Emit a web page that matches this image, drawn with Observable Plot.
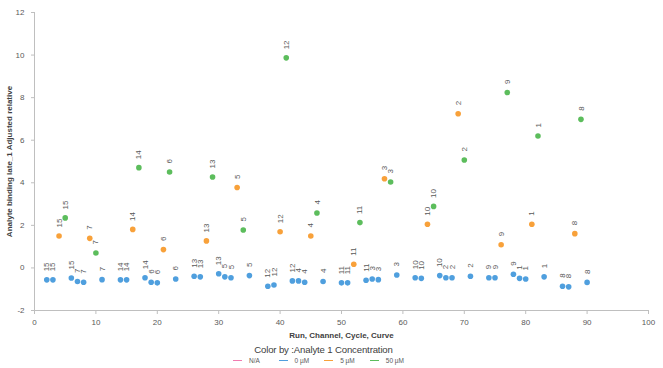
<!DOCTYPE html>
<html>
<head>
<meta charset="utf-8">
<script src="https://cdn.jsdelivr.net/npm/d3@7"></script>
<script src="https://cdn.jsdelivr.net/npm/@observablehq/plot@0.6"></script>
<style>
  html, body { margin: 0; padding: 0; background: #fff; }
  #wrap { position: relative; width: 663px; height: 368px; font-family: "Liberation Sans", Arial, sans-serif; }
  #chart svg { display: block; }
  #chart g[aria-label="x-axis label"] text, #chart g[aria-label="y-axis label"] text { font-weight: bold; fill: #404040; }
  #legend-title { position: absolute; left: 0; width: 647px; top: 344px; text-align: center; font-size: 9.6px; color: #404040; letter-spacing: -0.15px; }
  #legend-items { position: absolute; left: 233px; top: 357px; display: flex; }
  .item { width: 45.6px; display: flex; align-items: center; font-size: 6.5px; color: #595959; }
  .sw { width: 9px; height: 1.6px; margin-right: 7px; }
</style>
</head>
<body>
<div id="wrap">
  <div id="chart"></div>
  <div id="legend-title"></div>
  <div id="legend-items"></div>
</div>
<script>
// Series: 0 µM
const zeroRuns = [2,3,6,7,8,11,14,15,18,19,20,23,26,27,30,31,32,35,38,39,42,43,44,47,50,51,54,55,56,59,62,63,66,67,68,71,74,75,78,79,80,83,86,87,90];
const zeroValues = [-0.56,-0.56,-0.47,-0.64,-0.67,-0.55,-0.56,-0.56,-0.46,-0.67,-0.70,-0.52,-0.39,-0.42,-0.27,-0.42,-0.46,-0.36,-0.86,-0.80,-0.61,-0.61,-0.67,-0.64,-0.70,-0.70,-0.58,-0.52,-0.55,-0.33,-0.46,-0.49,-0.36,-0.46,-0.46,-0.39,-0.46,-0.46,-0.30,-0.49,-0.52,-0.42,-0.86,-0.89,-0.68];
const zeroCurves = ["15","15","15","7","7","7","14","14","14","6","6","6","13","13","13","5","5","5","12","12","12","4","4","4","11","11","11","3","3","3","10","10","10","2","2","2","9","9","9","1","1","1","8","8","8"];
// Series: 5 µM
const fiveRuns = [4,9,16,21,28,33,40,45,52,57,64,69,76,81,88];
const fiveValues = [1.50,1.39,1.81,0.86,1.27,3.78,1.70,1.50,0.17,4.19,2.05,7.24,1.09,2.05,1.61];
const fiveCurves = ["15","7","14","6","13","5","12","4","11","3","10","2","9","1","8"];
// Series: 50 µM
const fiftyRuns = [5,10,17,22,29,34,41,46,53,58,65,70,77,82,89];
const fiftyValues = [2.35,0.70,4.71,4.51,4.27,1.78,9.87,2.58,2.13,4.04,2.89,5.07,8.24,6.20,6.98];
const fiftyCurves = ["15","7","14","6","13","5","12","4","11","3","10","2","9","1","8"];

const legendLabels = ["N/A","0 µM","5 µM","50 µM"];
const legendColors = ["#f17cb0","#4f9fde","#f8a13a","#5cbd5c"];
const xTicks = [0,10,20,30,40,50,60,70,80,90,100];
const yTicks = [-2,0,2,4,6,8,10,12];

const rows = [
  ...zeroRuns.map((r,i)=>({run:r, value:zeroValues[i], curve:zeroCurves[i], conc:"0 µM"})),
  ...fiveRuns.map((r,i)=>({run:r, value:fiveValues[i], curve:fiveCurves[i], conc:"5 µM"})),
  ...fiftyRuns.map((r,i)=>({run:r, value:fiftyValues[i], curve:fiftyCurves[i], conc:"50 µM"}))
];

const axisColor = "#bfbfbf";
const plot = Plot.plot({
  width: 663,
  height: 343,
  marginLeft: 34,
  marginRight: 15,
  marginTop: 12,
  marginBottom: 33,
  style: {fontFamily: "Liberation Sans, Arial, sans-serif", background: "#fff"},
  x: {domain: [0,100]},
  y: {domain: [-2,12]},
  color: {domain: legendLabels, range: legendColors},
  marks: [
    Plot.axisY(yTicks, {tickSize: 3, tickPadding: 7, stroke: axisColor, fill: "#595959", fontSize: 8,
      tickFormat: d => String(d), label: "Analyte binding late_1 Adjusted relative",
      labelAnchor: "center", labelOffset: 28, labelArrow: "none"}),
    Plot.axisX(xTicks, {tickSize: 4, tickPadding: 5, stroke: axisColor, fill: "#595959", fontSize: 8,
      tickFormat: d => String(d), label: "Run, Channel, Cycle, Curve",
      labelAnchor: "center", labelOffset: 27, labelArrow: "none"}),
    Plot.ruleX([0], {stroke: axisColor}),
    Plot.ruleY([-2], {stroke: axisColor}),
    Plot.dot(rows, {x: "run", y: "value", fill: "conc", r: 2.8, stroke: null}),
    Plot.text(rows, {x: "run", y: "value", text: "curve", rotate: -90, textAnchor: "start",
      lineAnchor: "middle", dy: -8.5, fontSize: 8, fill: "#595959"})
  ]
});
document.getElementById("chart").appendChild(plot);

document.getElementById("legend-title").textContent = "Color by :Analyte 1 Concentration";
const items = document.getElementById("legend-items");
legendLabels.forEach((lab, i) => {
  const d = document.createElement("div");
  d.className = "item";
  const s = document.createElement("span");
  s.className = "sw";
  s.style.background = legendColors[i];
  const t = document.createElement("span");
  t.textContent = lab;
  d.appendChild(s); d.appendChild(t);
  items.appendChild(d);
});
</script>
</body>
</html>
